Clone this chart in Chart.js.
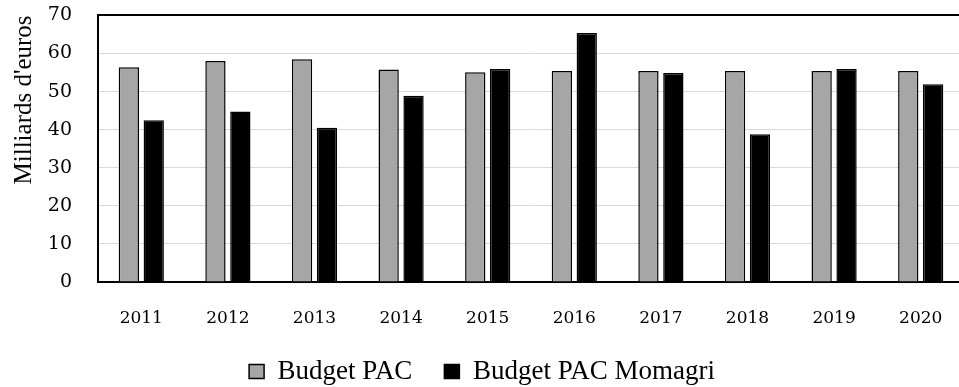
<!DOCTYPE html>
<html>
<head>
<meta charset="utf-8">
<script src="https://cdn.jsdelivr.net/npm/chart.js@4"></script>
<style>
  html, body { margin: 0; padding: 0; background: #fff; overflow: hidden; }
</style>
</head>
<body>
<canvas id="grafica" width="964" height="387"></canvas>
<script>
const annees = ["2011", "2012", "2013", "2014", "2015", "2016", "2017", "2018", "2019", "2020"];
const budgetPac = [56.4, 58.0, 58.5, 55.8, 55.1, 55.4, 55.4, 55.4, 55.4, 55.4];
const budgetMomagri = [42.5, 44.8, 40.5, 48.9, 55.9, 65.4, 54.9, 38.8, 55.9, 51.9];
const ticksY = [0, 10, 20, 30, 40, 50, 60, 70];

Chart.defaults.color = "#000";

const ctx = document.getElementById("grafica").getContext("2d");
const grafica = new Chart(ctx, {
    type: "bar",
    data: {
        labels: annees,
        datasets: [{
            label: "Budget PAC",
            data: budgetPac,
            backgroundColor: "#a6a6a6",
            borderColor: "#000",
            borderWidth: 1.5
        }, {
            label: "Budget PAC Momagri",
            data: budgetMomagri,
            backgroundColor: "#000",
            borderColor: "#000",
            borderWidth: 1.5
        }]
    },
    options: {
        responsive: false,
        animation: false,
        categoryPercentage: 0.575,
        barPercentage: 0.815,
        layout: {
            padding: { top: 15, bottom: -8, left: 0, right: 0 }
        },
        plugins: {
            tooltip: { enabled: false },
            legend: {
                position: "bottom",
                labels: {
                    boxWidth: 15,
                    boxHeight: 14,
                    padding: 32,
                    font: { family: "'Liberation Serif'", size: 27 }
                }
            }
        },
        scales: {
            x: {
                grid: { display: false, drawTicks: true, tickLength: 26 },
                border: { color: "#000", width: 2 },
                ticks: {
                    padding: 0,
                    font: { family: "'DejaVu Serif'", size: 17 }
                },
                afterFit: (scale) => { scale.height = 44; }
            },
            y: {
                min: 0,
                max: 70,
                afterBuildTicks: (scale) => {
                    scale.ticks = ticksY.map(v => ({ value: v }));
                },
                grid: {
                    drawTicks: true,
                    tickLength: 22,
                    tickColor: "rgba(0,0,0,0)",
                    color: (c) => c.tick && c.tick.value === 70 ? "#000" : "#d9d9d9",
                    lineWidth: (c) => c.tick && c.tick.value === 70 ? 2 : 1
                },
                border: { color: "#000", width: 2 },
                ticks: {
                    padding: 4,
                    font: { family: "'DejaVu Serif'", size: 19 }
                },
                title: {
                    display: true,
                    text: "Milliards d'euros",
                    align: "end",
                    padding: { top: 9, bottom: 0 },
                    font: { family: "'Liberation Serif'", size: 25 }
                },
                afterFit: (scale) => { scale.width = 98; }
            }
        }
    }
});
</script>
</body>
</html>
